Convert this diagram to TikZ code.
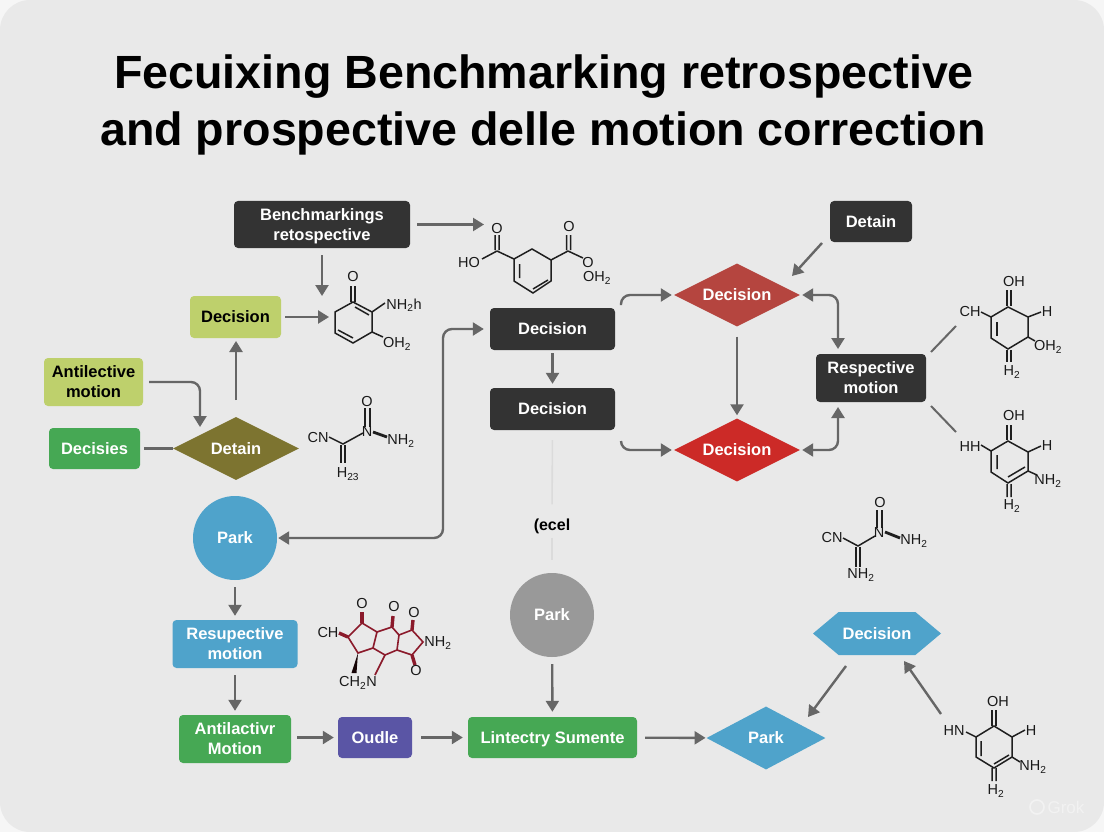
\documentclass[tikz,border=0pt]{standalone}
\usepackage{fontspec}
\setmainfont{Liberation Sans}
\usetikzlibrary{arrows.meta,shapes.geometric,shapes.symbols}
\definecolor{bgfill}{HTML}{E9E9E9}
\definecolor{bgout}{HTML}{F6F6F6}
\definecolor{dark}{HTML}{333333}
\definecolor{conn}{HTML}{666666}
\definecolor{lime}{HTML}{BED06C}
\definecolor{grn}{HTML}{46A854}
\definecolor{sky}{HTML}{4FA3CB}
\definecolor{purp}{HTML}{5A55A5}
\definecolor{redA}{HTML}{B5453F}
\definecolor{redB}{HTML}{CC2A27}
\definecolor{olive}{HTML}{7D7430}
\definecolor{mred}{HTML}{8B1A2B}
\tikzset{
  x=1pt,y=-1pt,
  >={Triangle[length=11pt,width=13pt]},
  lbl/.style={font=\bfseries\fontsize{16.5}{20}\selectfont,text=white,align=center,inner sep=0pt},
  rbox/.style 2 args={lbl,rectangle,rounded corners=4pt,minimum width=#1,minimum height=#2},
  dia/.style={lbl,diamond,aspect=2,minimum width=126pt,minimum height=63pt},
  circ/.style={lbl,circle,minimum size=84pt},
  arr/.style={draw=conn,line width=2.4pt,rounded corners=9pt},
  plain/.style={draw=conn,line width=2.4pt},
  thin/.style={draw=conn,line width=2pt},
  faintl/.style={draw=black!14,line width=1.6pt},
  bond/.style={draw=black!88,line width=1.5pt},
  rbond/.style={draw=mred,line width=1.6pt},
  wedge/.style={draw=black!88,line width=2.8pt},
  rwedge/.style={draw=mred,line width=3.4pt},
  chem/.style={font=\fontsize{14.5}{16}\selectfont,text=black!90,inner sep=0pt},
}
\begin{document}
\begin{tikzpicture}
\useasboundingbox (0,0) rectangle (1104,832);
\fill[bgout] (0,0) rectangle (1104,832);
\fill[bgfill,rounded corners=30pt] (0,0) rectangle (1104,832);

% title
\node[font=\bfseries\fontsize{46.6}{56}\selectfont,inner sep=0pt] (t1) at (544,77) {Fecuixing Benchmarking retrospective};
\node[font=\bfseries\fontsize{46.6}{56}\selectfont,inner sep=0pt] (t2) at (543,133) {and prospective delle motion correction};

% boxes
\node[rbox={176pt}{47pt},fill=dark,text depth=0pt] (bench) at (322,224.5) {Benchmarkings\\retospective};
\node[rbox={82pt}{41pt},fill=dark] (det) at (871,221.5) {Detain};
\node[rbox={91pt}{42pt},fill=lime,text=black] (decY) at (235.5,317) {Decision};
\node[rbox={125pt}{42pt},fill=dark] (dec1) at (552.5,329) {Decision};
\node[rbox={125pt}{42pt},fill=dark] (dec2) at (552.5,409) {Decision};
\node[rbox={110pt}{48pt},fill=dark] (resp) at (871,378) {Respective\\motion};
\node[rbox={99pt}{48pt},fill=lime,text=black] (anti) at (93.5,382) {Antilective\\motion};
\node[rbox={91pt}{41pt},fill=grn] (decis) at (94.5,448.5) {Decisies};
\node[rbox={125pt}{48pt},fill=sky] (resup) at (235,644) {Resupective\\motion};
\node[rbox={112pt}{48pt},fill=grn] (antim) at (235,739) {Antilactivr\\Motion};
\node[rbox={74pt}{41pt},fill=purp] (oudle) at (375,737.5) {Oudle};
\node[rbox={169pt}{41pt},fill=grn,text depth=0pt] (lint) at (552.5,737.5) {Lintectry Sumente};

% diamonds, circles, hexagon
\node[dia,fill=redA] (red1) at (737,295) {Decision};
\node[dia,fill=redB] (red2) at (737,450) {Decision};
\node[dia,fill=olive] (detD) at (236,448.5) {Detain};
\node[dia,fill=sky,minimum width=119pt] (parkD) at (766,738) {Park};
\node[circ,fill=sky] (park) at (235,538) {Park};
\node[circ,fill=black!40] (parkG) at (552,615) {Park};
\node[lbl,signal,signal to=east and west,signal pointer angle=80,fill=sky,minimum width=128pt,minimum height=43pt] (hex) at (877,633.5) {Decision};
\node[font=\bfseries\fontsize{16}{20}\selectfont,inner sep=2pt] (lecel) at (552,526) {(ecel};

% free ends of connectors
\coordinate (m1) at (484,224.5);
\coordinate (m2) at (322,296);
\coordinate (m3) at (329,317);
\coordinate (a1) at (200,427);
\coordinate (e1) at (443,430);
\coordinate (d1s) at (621,305);
\coordinate (d2s) at (621,441);
\coordinate (r1) at (838,349);
\coordinate (r2) at (838,407);
\coordinate (rd) at (792,276);
\coordinate (detS) at (822,243);
\coordinate (q1) at (931,352);
\coordinate (q2) at (956,326);
\coordinate (q3) at (931,406);
\coordinate (q4) at (956,432);
\coordinate (h1) at (846,666);
\coordinate (h2) at (808,717);
\coordinate (h3) at (941,714);
\coordinate (h4) at (904,661);
\coordinate (u1) at (236,400);
\coordinate (u2) at (236,341);

% connectors
\draw[plain,->,shorten <=7pt] (bench) -- (m1);
\draw[plain,->,shorten <=7pt] (bench) -- (m2);
\draw[plain,->,shorten <=4pt] (decY) -- (m3);
\draw[plain,->] (u1) -- (u2);
\draw[arr,->,shorten <=6pt] (anti.east) -| (a1);
\draw[plain,shorten <=4pt] (decis.east) -- (detD.west);
\draw[arr,<->,shorten <=1pt,shorten >=6pt] (park.east) -| (e1) |- (dec1.west);
\draw[plain,->,shorten <=7pt,shorten >=4pt] (park) -- (resup);
\draw[plain,->,shorten <=7pt,shorten >=4pt] (resup) -- (antim);
\draw[plain,->,shorten <=6pt,shorten >=4pt] (antim.east |- oudle) -- (oudle.west);
\draw[plain,->,shorten <=9pt,shorten >=5pt] (oudle) -- (lint);
\draw[plain,->,shorten <=8pt,shorten >=1pt] (lint) -- (parkD);
\draw[plain,->,shorten <=7pt,shorten >=5pt] (parkG) -- (lint);
\draw[plain,->,shorten <=3pt,shorten >=4pt] (dec1) -- (dec2);
\draw[arr,->,shorten >=2pt] (d1s) |- (red1.west);
\draw[arr,->,shorten >=2pt] (d2s) |- (red2.west);
\draw[plain,->,shorten <=10pt,shorten >=3pt] (red1) -- (red2);
\draw[plain,->] (detS) -- (rd);
\draw[arr,<->,shorten <=2pt] (red1.east) -| (r1);
\draw[arr,<->,shorten <=2pt] (red2.east) -| (r2);
\draw[thin] (q1) -- (q2);
\draw[thin] (q3) -- (q4);
\draw[plain,->] (h1) -- (h2);
\draw[plain,->] (h3) -- (h4);
\draw[faintl,shorten <=10pt,shorten >=12pt] (dec2.south) -- (lecel.north);
\draw[faintl,shorten <=2pt,shorten >=13pt] (lecel.south) -- (parkG.north);

% molecule 1
\draw[bond] (514,259)--(532,249)--(551,260)--(551,281)--(533,293)--(514,281)--cycle;
\draw[bond] (519.5,264)--(519.5,278) (533,289)--(548,280);
\draw[bond] (514,259)--(497,251) (497,251)--(482,259) (495,250)--(495,235) (499,250)--(499,235);
\draw[bond] (551,260)--(568,251) (568,251)--(583,258) (566.5,250)--(566.5,235) (570.5,250)--(570.5,235);
\node[chem] (m1o) at (497,229) {O};
\node[chem] (m1h) at (469,263) {HO};
\node[chem] (m1p) at (569,227) {O};
\node[chem] (m1q) at (588,263) {O};
\node[chem] (m1r) at (597,278) {OH\textsubscript{2}};

% molecule 2
\draw[bond] (353,302)--(372,312)--(372,332)--(353,343)--(335,333)--(335,312)--cycle;
\draw[bond] (355,307)--(369,315) (338,330)--(353,338);
\draw[bond] (351,302)--(351,286) (355,302)--(355,286);
\draw[bond] (372,312)--(385,303) (372,332)--(383,337);
\node[chem] (m2o) at (353,277) {O};
\node[chem] (m2n) at (404,305) {NH\textsubscript{2}h};
\node[chem] (m2h) at (397,344) {OH\textsubscript{2}};

% molecule 3
\draw[bond] (329,437)--(343,444)--(363,433);
\draw[bond] (365,408)--(365,427) (370,408)--(370,427);
\draw[wedge] (373,432)--(387,437);
\draw[bond] (341,445)--(341,463) (345,445)--(345,463);
\node[chem] (m3c) at (318,438) {CN};
\node[chem] (m3n) at (367,432) {N};
\node[chem] (m3o) at (367,402) {O};
\node[chem] (m3m) at (401,441) {NH\textsubscript{2}};
\node[chem] (m3h) at (348,474) {H\textsubscript{23}};

% molecule 4
\draw[bond] (1008,307)--(1028,317)--(1028,337)--(1008,349)--(991,338)--(991,317)--cycle;
\draw[bond] (1007,290)--(1007,306) (1011,290)--(1011,306);
\draw[bond] (981,312)--(991,317) (1028,317)--(1041,312) (1028,337)--(1035,341);
\draw[bond] (997,322)--(997,336) (1007,350)--(1007,362) (1011,350)--(1011,362);
\node[chem] (m4o) at (1014,282) {OH};
\node[chem] (m4c) at (970,312) {CH};
\node[chem] (m4h) at (1047,312) {H};
\node[chem] (m4p) at (1048,347) {OH\textsubscript{2}};
\node[chem] (m4q) at (1012,372) {H\textsubscript{2}};

% molecule 5
\draw[bond] (1008,441)--(1028,452)--(1028,471)--(1008,483)--(991,472)--(991,451)--cycle;
\draw[bond] (1007,425)--(1007,440) (1011,425)--(1011,440);
\draw[bond] (981,445)--(991,451) (1028,452)--(1041,446) (1028,471)--(1037,475);
\draw[bond] (997,455)--(997,469) (1008,477)--(1025,467) (1007,484)--(1007,497) (1011,484)--(1011,497);
\node[chem] (m5o) at (1014,416) {OH};
\node[chem] (m5c) at (970,447) {HH};
\node[chem] (m5h) at (1047,446) {H};
\node[chem] (m5p) at (1048,481) {NH\textsubscript{2}};
\node[chem] (m5q) at (1012,506) {H\textsubscript{2}};

% molecule 6
\draw[bond] (994,726)--(1012,737)--(1012,757)--(994,768)--(976,757)--(976,737)--cycle;
\draw[bond] (992,710)--(992,726) (996,710)--(996,726);
\draw[bond] (966,732)--(976,737) (1012,737)--(1025,730) (1012,757)--(1020,762);
\draw[bond] (981,741)--(981,756) (994,764)--(1009,755) (992,768)--(992,781) (996,768)--(996,781);
\node[chem] (m6o) at (998,702) {OH};
\node[chem] (m6c) at (954,731) {HN};
\node[chem] (m6h) at (1031,731) {H};
\node[chem] (m6p) at (1033,767) {NH\textsubscript{2}};
\node[chem] (m6q) at (996,791) {H\textsubscript{2}};

% molecule 7 (red)
\draw[rbond] (362,623)--(377,632)--(373,648)--(358,653)--(348,637)--cycle;
\draw[rbond] (377,632)--(392,627)--(399,635)--(397,650)--(385,655)--(373,648);
\draw[rbond] (399,635)--(412,630)--(423,642)--(412,655)--(397,650);
\draw[rbond] (385,655)--(375,675);
\draw[rwedge] (362,623)--(362,612);
\draw[rwedge] (392,627)--(393,616);
\draw[rwedge] (412,630)--(413,620);
\draw[rwedge] (412,655)--(415,665);
\draw[rwedge] (348,637)--(339,633);
\fill[black!85!mred] (358,653)--(356.5,673)--(351.5,673)--cycle;
\node[chem] (m7a) at (362,604) {O};
\node[chem] (m7b) at (394,607) {O};
\node[chem] (m7c) at (414,613) {O};
\node[chem] (m7d) at (416,671) {O};
\node[chem] (m7e) at (328,633) {CH};
\node[chem] (m7f) at (358,683) {CH\textsubscript{2}N};
\node[chem] (m7g) at (438,643) {NH\textsubscript{2}};

% molecule 8
\draw[bond] (843,538)--(858,546)--(875,536);
\draw[bond] (877,510)--(877,528) (882,510)--(882,528);
\draw[wedge] (885,532)--(900,538);
\draw[bond] (856,547)--(856,567) (860,547)--(860,567);
\node[chem] (m8c) at (832,538) {CN};
\node[chem] (m8n) at (879,533) {N};
\node[chem] (m8o) at (880,503) {O};
\node[chem] (m8m) at (914,541) {NH\textsubscript{2}};
\node[chem] (m8h) at (861,575) {NH\textsubscript{2}};

% watermark
\node[font=\fontsize{17}{20}\selectfont,text=black!5,inner sep=0pt] (wm) at (1066,807) {Grok};
\draw[black!5,line width=1.6pt] (1037,807) circle (7pt);
\end{tikzpicture}
\end{document}
